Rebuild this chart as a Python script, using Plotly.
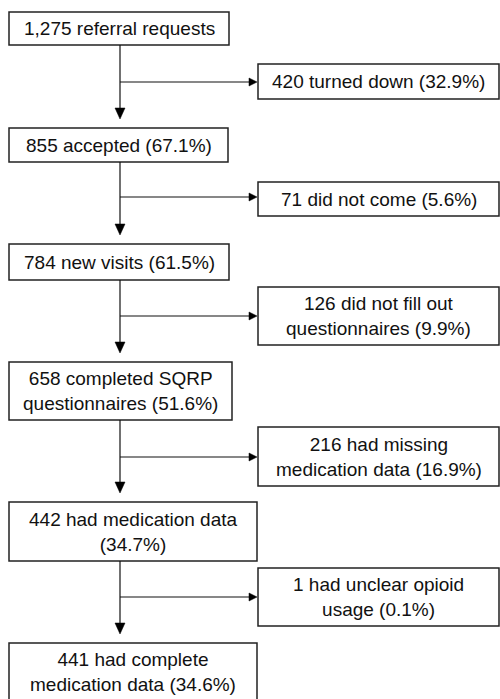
import plotly.graph_objects as go

# ---- data ----
total = 1275
main_counts = [1275, 855, 784, 658, 442, 441]
main_desc = ["referral requests", "accepted", "new visits",
             "completed SQRP<br>questionnaires", "had medication data<br>",
             "had complete<br>medication data"]
excl_counts = [420, 71, 126, 216, 1]
excl_desc = ["turned down", "did not come", "did not fill out<br>questionnaires",
             "had missing<br>medication data", "had unclear opioid<br>usage"]


def label(n, desc, with_pct=True):
    if not with_pct:
        return f"{n:,} {desc}"
    pct = f"({n / total * 100:.1f}%)"
    sep = "" if desc.endswith("<br>") else " "
    return f"{n:,} {desc}{sep}{pct}"


main_labels = [label(main_counts[0], main_desc[0], False)] + [
    label(n, d) for n, d in zip(main_counts[1:], main_desc[1:])]
excl_labels = [label(n, d) for n, d in zip(excl_counts, excl_desc)]

# ---- layout geometry (pixels) ----
main_boxes = [(9, 229, 12, 45), (9, 228, 128, 162), (9, 229, 244, 280),
              (9, 232, 362, 420), (9, 257, 502, 561), (9, 257, 643, 712)]
excl_boxes = [(258, 499, 64, 99), (258, 499, 182, 216), (258, 499, 287, 345),
              (258, 499, 427, 486), (258, 499, 568, 626)]
branch_y = [82, 197, 316, 457, 597]
stem_x = 120
gap = 9
ah_len, ah_half = 11, 5

fig = go.Figure()
FONT = dict(family="Liberation Sans, Arial, sans-serif", size=19, color="#111")
LINE = dict(color="#111", width=1.2)

for (x0, x1, y0, y1), txt in zip(main_boxes, main_labels):
    fig.add_shape(type="rect", x0=x0, x1=x1, y0=y0, y1=y1,
                  line=dict(color="#222", width=1.5), fillcolor="white")
    yc = (y0 + y1) / 2 if y1 < 699 else (y0 + 700) / 2
    fig.add_annotation(x=(x0 + x1) / 2, y=yc,
                       text=txt, showarrow=False, font=FONT, align="center")

for (x0, x1, y0, y1), txt in zip(excl_boxes, excl_labels):
    fig.add_shape(type="rect", x0=x0, x1=x1, y0=y0, y1=y1,
                  line=dict(color="#222", width=1.5), fillcolor="white")
    fig.add_annotation(x=(x0 + x1) / 2, y=(y0 + y1) / 2,
                       text=txt, showarrow=False, font=FONT, align="center")

for i in range(len(main_boxes) - 1):
    top = main_boxes[i][3]
    tip = main_boxes[i + 1][2] - gap
    fig.add_shape(type="line", x0=stem_x, x1=stem_x, y0=top, y1=tip - ah_len + 1, line=LINE)
    fig.add_shape(type="path",
                  path=f"M {stem_x - ah_half} {tip - ah_len} L {stem_x + ah_half} {tip - ah_len} L {stem_x} {tip} Z",
                  fillcolor="#000", line=dict(color="#000", width=0.5))
    by = branch_y[i]
    ex0 = excl_boxes[i][0]
    fig.add_shape(type="line", x0=stem_x, x1=ex0 - 8, y0=by, y1=by, line=LINE)
    fig.add_shape(type="path",
                  path=f"M {ex0 - 9} {by - 4} L {ex0 - 9} {by + 4} L {ex0 - 1} {by} Z",
                  fillcolor="#000", line=dict(color="#000", width=0.5))

fig.update_layout(
    width=500, height=699, margin=dict(l=0, r=0, t=0, b=0),
    paper_bgcolor="white", plot_bgcolor="white", showlegend=False,
    xaxis=dict(range=[0, 500], visible=False, fixedrange=True),
    yaxis=dict(range=[699, 0], visible=False, fixedrange=True),
)
fig.write_html(
    "out.html",
    config=dict(displayModeBar=False, responsive=False),
    post_script="document.body.style.margin='0';document.body.style.overflow='hidden';"
                "Plotly.Plots.resize(document.getElementById('{plot_id}'));",
)
